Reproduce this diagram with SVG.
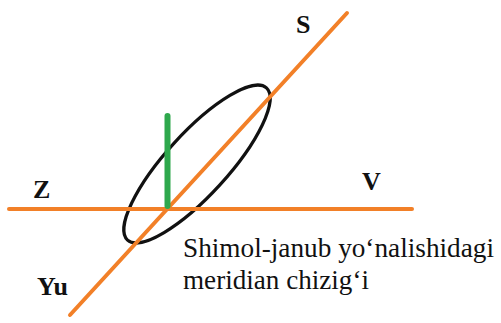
<svg xmlns="http://www.w3.org/2000/svg" width="501" height="323" viewBox="0 0 501 323">
<style>
.ax{stroke:#F28028;stroke-width:4;stroke-linecap:round;fill:none}
.lb{font-family:"Liberation Serif","Times New Roman",serif;font-weight:bold;font-size:26px;fill:#111}
.cap{font-family:"Liberation Serif","Times New Roman",serif;font-size:27px;fill:#111}
</style>
<rect width="501" height="323" fill="#fff"/>
<g id="ellipse"><ellipse cx="197" cy="164" rx="103" ry="31" transform="rotate(-47.6 197 164)" fill="none" stroke="#111" stroke-width="3.2"/></g>
<g id="connectors">
<line class="ax" x1="9" y1="209" x2="412" y2="209"/>
<line class="ax" x1="70" y1="315" x2="347" y2="13"/>
<line x1="167.5" y1="116" x2="167.5" y2="206" stroke="#2EA84C" stroke-width="6" stroke-linecap="round"/>
</g>
<g id="labels">
<text class="lb" x="296" y="33">S</text>
<text class="lb" x="33" y="198">Z</text>
<text class="lb" x="362" y="190">V</text>
<text class="lb" x="37" y="295">Yu</text>
</g>
<g id="caption">
<text class="cap" x="183" y="257" textLength="311" lengthAdjust="spacingAndGlyphs">Shimol-janub yo‘nalishidagi</text>
<text class="cap" x="183" y="289" textLength="186" lengthAdjust="spacingAndGlyphs">meridian chizig‘i</text>
</g>
</svg>
